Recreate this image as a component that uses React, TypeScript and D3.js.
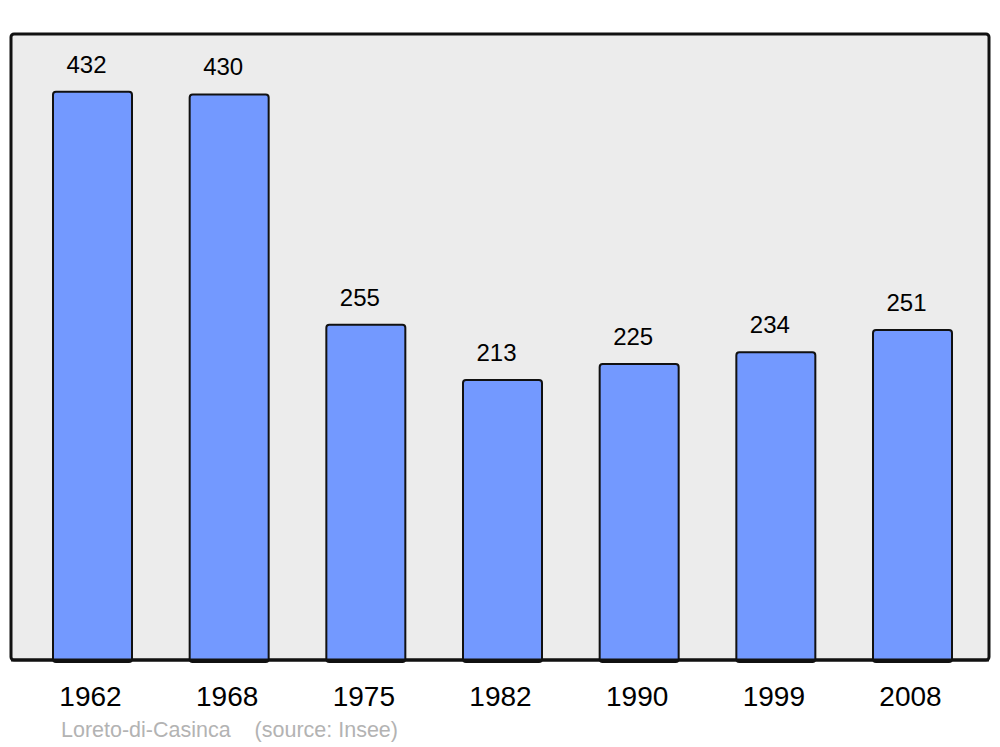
import * as d3 from "d3";
import { useEffect, useRef } from "react";

const years = ["1962", "1968", "1975", "1982", "1990", "1999", "2008"];
const population = [432, 430, 255, 213, 225, 234, 251];
const town = "Loreto-di-Casinca";
const source = "(source: Insee)";

const App = () => {
  const ref = useRef<SVGSVGElement>(null);

  useEffect(() => {
    const svg = d3.select(ref.current);
    svg.selectAll("*").remove();
    const width = 1000;
    const height = 747;
    const panel = { left: 11, top: 34, right: 989, bottom: 660 };

    const x = d3
      .scaleBand()
      .domain(years)
      .range([12, 993])
      .paddingInner(0.422)
      .paddingOuter(0.3);

    const y = d3
      .scaleLinear()
      .domain([0, 476])
      .range([panel.bottom, panel.top]);

    svg.attr("viewBox", [0, 0, width, height]);

    // Panel background
    svg
      .append("rect")
      .attr("x", panel.left)
      .attr("y", panel.top)
      .attr("width", panel.right - panel.left)
      .attr("height", panel.bottom - panel.top)
      .attr("rx", 3)
      .attr("fill", "#ececec")
      .attr("stroke", "#111")
      .attr("stroke-width", 3);

    const data = years.map((yr, i) => ({ year: yr, value: population[i] }));

    // Bars
    svg
      .append("g")
      .selectAll("rect")
      .data(data)
      .join("rect")
      .attr("x", (d) => x(d.year)!)
      .attr("y", (d) => y(d.value))
      .attr("width", x.bandwidth())
      .attr("height", (d) => y(0) - y(d.value) + 2)
      .attr("rx", 3)
      .attr("fill", "#7399ff")
      .attr("stroke", "#111")
      .attr("stroke-width", 2);

    // Redraw panel bottom line over the bars
    svg
      .append("line")
      .attr("x1", panel.left)
      .attr("x2", panel.right)
      .attr("y1", panel.bottom)
      .attr("y2", panel.bottom)
      .attr("stroke", "#111")
      .attr("stroke-width", 3);

    // Value labels
    svg
      .append("g")
      .selectAll("text")
      .data(data)
      .join("text")
      .attr("x", (d) => x(d.year)! + x.bandwidth() / 2 - 6)
      .attr("y", (d) => y(d.value) - 19)
      .attr("text-anchor", "middle")
      .attr("font-family", "Liberation Sans, Arial, sans-serif")
      .attr("font-size", 24)
      .attr("fill", "#000")
      .text((d) => d.value);

    // Year labels
    svg
      .append("g")
      .selectAll("text")
      .data(data)
      .join("text")
      .attr("x", (d) => x(d.year)! + x.bandwidth() / 2 - 2)
      .attr("y", 706)
      .attr("text-anchor", "middle")
      .attr("font-family", "Liberation Sans, Arial, sans-serif")
      .attr("font-size", 28)
      .attr("fill", "#000")
      .text((d) => d.year);

    // Source
    svg
      .append("text")
      .attr("x", 61)
      .attr("y", 737)
      .attr("font-family", "Liberation Sans, Arial, sans-serif")
      .attr("font-size", 21.5)
      .attr("fill", "#b3b3b3")
      .attr("xml:space", "preserve")
      .style("white-space", "pre")
      .text(`${town}    ${source}`);
  }, []);

  return (
    <svg
      ref={ref}
      width={1000}
      height={747}
      style={{ position: "absolute", left: 0, top: 0, display: "block" }}
    />
  );
};

export default App;
